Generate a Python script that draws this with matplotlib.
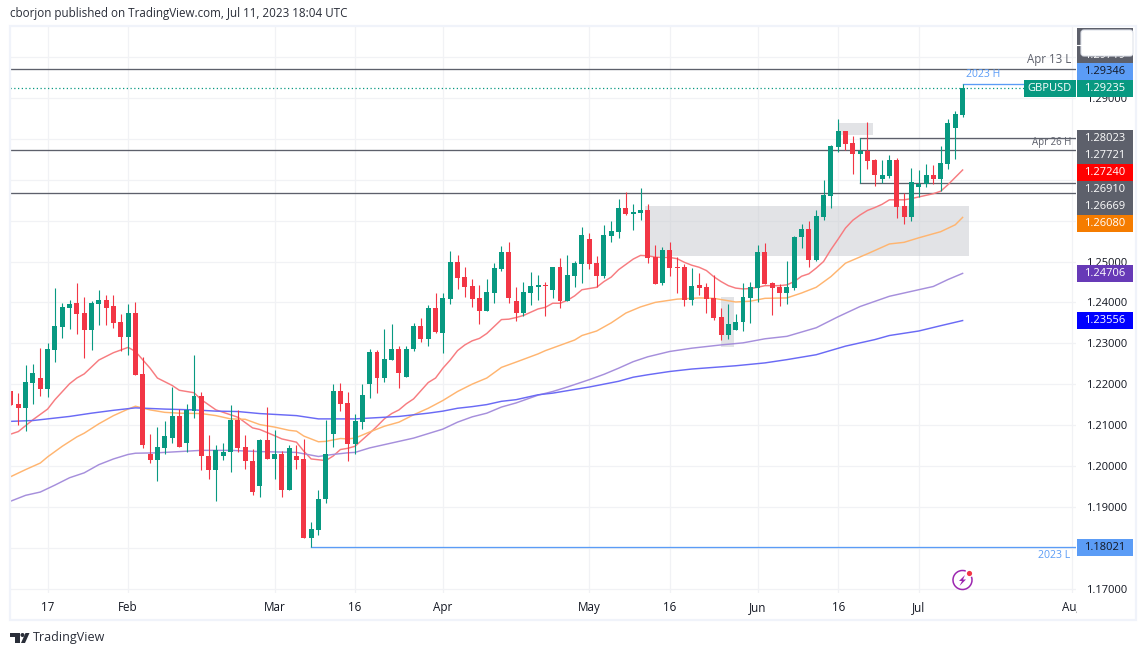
import matplotlib
matplotlib.use('Agg')
import matplotlib.pyplot as plt
from matplotlib.patches import Rectangle, FancyBboxPatch, Polygon, Circle, Arc

opens = [1.2184, 1.2152, 1.2142, 1.2203, 1.2216, 1.2189, 1.2284, 1.2340, 1.2386, 1.2398,
         1.2374, 1.2333, 1.2396, 1.2406, 1.2391, 1.2352, 1.2315, 1.2374, 1.2225, 1.2030,
         1.2015, 1.2045, 1.2069, 1.2123, 1.2057, 1.2135, 1.2172, 1.2025, 1.1991, 1.2023,
         1.2033, 1.2113, 1.2047, 1.2013, 1.1950, 1.2064, 1.2018, 1.2030, 1.1942, 1.2023,
         1.2018, 1.1823, 1.1842, 1.1918, 1.2079, 1.2184, 1.2154, 1.2054, 1.2108, 1.2200,
         1.2279, 1.2215, 1.2259, 1.2286, 1.2218, 1.2285, 1.2343, 1.2311, 1.2387, 1.2324,
         1.2409, 1.2500, 1.2463, 1.2441, 1.2411, 1.2380, 1.2424, 1.2482, 1.2524, 1.2404,
         1.2375, 1.2424, 1.2438, 1.2443, 1.2431, 1.2487, 1.2404, 1.2465, 1.2494, 1.2555,
         1.2497, 1.2465, 1.2563, 1.2572, 1.2631, 1.2616, 1.2619, 1.2626, 1.2511, 1.2448,
         1.2528, 1.2487, 1.2487, 1.2407, 1.2443, 1.2438, 1.2411, 1.2365, 1.2321, 1.2333,
         1.2351, 1.2411, 1.2436, 1.2524, 1.2448, 1.2438, 1.2424, 1.2436, 1.2559, 1.2580,
         1.2504, 1.2610, 1.2661, 1.2780, 1.2820, 1.2790, 1.2763, 1.2770, 1.2749, 1.2702,
         1.2710, 1.2749, 1.2637, 1.2610, 1.2683, 1.2690, 1.2712, 1.2702, 1.2739, 1.2827,
         1.2859]
highs = [1.2184, 1.2179, 1.2247, 1.2250, 1.2289, 1.2301, 1.2435, 1.2398, 1.2406, 1.2447,
         1.2413, 1.2403, 1.2430, 1.2418, 1.2418, 1.2372, 1.2396, 1.2401, 1.2267, 1.2079,
         1.2096, 1.2111, 1.2193, 1.2140, 1.2152, 1.2272, 1.2181, 1.2076, 1.2050, 1.2057,
         1.2150, 1.2137, 1.2076, 1.2042, 1.2067, 1.2145, 1.2089, 1.2037, 1.2050, 1.2050,
         1.2067, 1.1862, 1.1940, 1.2113, 1.2201, 1.2203, 1.2181, 1.2128, 1.2200, 1.2286,
         1.2284, 1.2336, 1.2346, 1.2293, 1.2293, 1.2350, 1.2363, 1.2394, 1.2424, 1.2424,
         1.2526, 1.2516, 1.2487, 1.2458, 1.2443, 1.2458, 1.2497, 1.2538, 1.2548, 1.2438,
         1.2450, 1.2475, 1.2467, 1.2450, 1.2487, 1.2509, 1.2516, 1.2502, 1.2585, 1.2570,
         1.2514, 1.2589, 1.2599, 1.2653, 1.2670, 1.2641, 1.2680, 1.2641, 1.2541, 1.2536,
         1.2548, 1.2511, 1.2494, 1.2484, 1.2472, 1.2448, 1.2467, 1.2387, 1.2397, 1.2372,
         1.2448, 1.2451, 1.2541, 1.2546, 1.2451, 1.2446, 1.2502, 1.2563, 1.2593, 1.2600,
         1.2627, 1.2700, 1.2785, 1.2849, 1.2820, 1.2807, 1.28023, 1.2841, 1.2751, 1.2749,
         1.2761, 1.2754, 1.2667, 1.2729, 1.2724, 1.2739, 1.2737, 1.2783, 1.2849, 1.2868,
         1.29346]
lows = [1.2150, 1.2101, 1.2086, 1.2152, 1.2172, 1.2169, 1.2254, 1.2313, 1.2335, 1.2323,
        1.2264, 1.2284, 1.2345, 1.2345, 1.2337, 1.2281, 1.2272, 1.2223, 1.2045, 1.2006,
        1.1962, 1.2030, 1.2057, 1.2047, 1.2033, 1.2118, 1.1991, 1.1967, 1.1915, 1.2015,
        1.1986, 1.2035, 1.1993, 1.1928, 1.1923, 1.2018, 1.1967, 1.1925, 1.1940, 1.1993,
        1.1823, 1.18021, 1.1830, 1.1908, 1.2047, 1.2135, 1.2011, 1.2028, 1.2091, 1.2166,
        1.2178, 1.2205, 1.2259, 1.2191, 1.2218, 1.2280, 1.2304, 1.2294, 1.2326, 1.2275,
        1.2397, 1.2433, 1.2414, 1.2389, 1.2346, 1.2380, 1.2399, 1.2477, 1.2399, 1.2355,
        1.2367, 1.2394, 1.2406, 1.2367, 1.2411, 1.2387, 1.2404, 1.2438, 1.2448, 1.2482,
        1.2438, 1.2460, 1.2548, 1.2558, 1.2614, 1.2577, 1.2602, 1.2497, 1.2446, 1.2443,
        1.2465, 1.2424, 1.2392, 1.2394, 1.2419, 1.2375, 1.2358, 1.2309, 1.2311, 1.2333,
        1.2329, 1.2349, 1.2402, 1.2444, 1.2370, 1.2392, 1.2397, 1.2431, 1.2534, 1.2487,
        1.2502, 1.2602, 1.2632, 1.2768, 1.2773, 1.2715, 1.2691, 1.2727, 1.2685, 1.2692,
        1.2705, 1.2607, 1.2593, 1.2600, 1.2659, 1.2683, 1.2690, 1.2673, 1.2727, 1.2751,
        1.2854]
closes = [1.2150, 1.2142, 1.2206, 1.2228, 1.2189, 1.2286, 1.2342, 1.2389, 1.2396, 1.2372,
          1.2333, 1.2398, 1.2406, 1.2386, 1.2350, 1.2315, 1.2374, 1.2223, 1.2050, 1.2015,
          1.2047, 1.2072, 1.2123, 1.2047, 1.2137, 1.2172, 1.2023, 1.1991, 1.2040, 1.2035,
          1.2113, 1.2045, 1.2011, 1.1937, 1.2064, 1.2018, 1.2030, 1.1942, 1.2045, 1.2015,
          1.1823, 1.1845, 1.1920, 1.2030, 1.2184, 1.2152, 1.2054, 1.2111, 1.2174, 1.2279,
          1.2215, 1.2262, 1.2286, 1.2228, 1.2286, 1.2343, 1.2311, 1.2387, 1.2328, 1.2411,
          1.2500, 1.2460, 1.2438, 1.2409, 1.2380, 1.2426, 1.2485, 1.2524, 1.2411, 1.2375,
          1.2426, 1.2441, 1.2443, 1.2441, 1.2487, 1.2404, 1.2467, 1.2497, 1.2565, 1.2494,
          1.2465, 1.2565, 1.2575, 1.2631, 1.2616, 1.2621, 1.2626, 1.2509, 1.2446, 1.2528,
          1.2485, 1.2485, 1.2407, 1.2441, 1.2436, 1.2409, 1.2363, 1.2321, 1.2346, 1.2353,
          1.2414, 1.2438, 1.2524, 1.2446, 1.2436, 1.2424, 1.2438, 1.2561, 1.2580, 1.2504,
          1.2612, 1.2663, 1.2783, 1.2820, 1.2788, 1.2763, 1.2770, 1.2746, 1.2712, 1.2712,
          1.2749, 1.2634, 1.2610, 1.2695, 1.2690, 1.2712, 1.2702, 1.2741, 1.2839, 1.2861,
          1.29235]

# moving averages, read at some candles only (candle number counted from 1)
red_n = [1, 2, 4, 6, 7, 9, 10, 11, 13, 15, 17, 18, 20, 21, 23, 24, 26, 27, 29, 31, 32, 34, 35, 37, 38, 40, 41, 42,
         44, 45, 46, 47, 48, 49, 50, 51, 52, 53, 54, 55, 56, 57, 58, 59, 60, 61, 62, 63, 64, 65, 66, 67, 68, 69, 70,
         71, 72, 73, 74, 75, 76, 77, 78, 79, 80, 81, 82, 83, 84, 85, 86, 87, 88, 89, 90, 91, 92, 93, 94, 95, 96, 97,
         98, 99, 100, 101, 102, 103, 104, 105, 106, 107, 108, 109, 110, 111, 112, 113, 114, 115, 116, 117, 118, 119,
         120, 121, 122, 123, 124, 125, 126, 127, 128, 129, 130, 131]
red_ma = [1.2078, 1.2084, 1.2113, 1.2139, 1.2162, 1.2201, 1.2215, 1.2225, 1.2259, 1.2277, 1.2290, 1.2280, 1.2239,
          1.2215, 1.2197, 1.2185, 1.2179, 1.2162, 1.2137, 1.2125, 1.2119, 1.2093, 1.2089, 1.2074, 1.2066, 1.2058,
          1.2036, 1.2017, 1.2013, 1.2024, 1.2040, 1.2043, 1.2048, 1.2064, 1.2080, 1.2097, 1.2115, 1.2128, 1.2137,
          1.2152, 1.2164, 1.2184, 1.2204, 1.2215, 1.2239, 1.2259, 1.2282, 1.2296, 1.2306, 1.2312, 1.2324, 1.2341,
          1.2358, 1.2359, 1.2363, 1.2368, 1.2376, 1.2384, 1.2388, 1.2398, 1.2398, 1.2405, 1.2416, 1.2431, 1.2434,
          1.2437, 1.2451, 1.2462, 1.2480, 1.2493, 1.2506, 1.2515, 1.2514, 1.2511, 1.2510, 1.2510, 1.2507, 1.2498,
          1.2491, 1.2486, 1.2478, 1.2463, 1.2451, 1.2441, 1.2435, 1.2433, 1.2434, 1.2437, 1.2441, 1.2441, 1.2441,
          1.2443, 1.2451, 1.2464, 1.2470, 1.2484, 1.2500, 1.2529, 1.2555, 1.2582, 1.2601, 1.2614, 1.2625, 1.2632,
          1.2640, 1.2651, 1.2651, 1.2651, 1.2654, 1.2658, 1.2662, 1.2666, 1.2672, 1.2688, 1.2706, 1.2724]

orange_n = [1, 3, 4, 5, 6, 8, 10, 11, 13, 15, 17, 18, 20, 22, 24, 27, 29, 31, 33, 35, 37, 39, 40, 41, 43, 44, 46, 47,
            48, 50, 52, 54, 56, 58, 60, 62, 64, 66, 68, 70, 73, 74, 76, 78, 79, 81, 83, 85, 87, 89, 92, 95, 97, 100,
            102, 104, 107, 109, 111, 113, 115, 118, 121, 123, 125, 128, 130, 131]
orange_ma = [1.1974, 1.1991, 1.1999, 1.2007, 1.2022, 1.2048, 1.2071, 1.2080, 1.2103, 1.2123, 1.2139, 1.2146, 1.2137,
             1.2131, 1.2129, 1.2128, 1.2123, 1.2115, 1.2114, 1.2101, 1.2095, 1.2087, 1.2085, 1.2073, 1.2059, 1.2060,
             1.2067, 1.2066, 1.2068, 1.2083, 1.2097, 1.2107, 1.2125, 1.2141, 1.2160, 1.2182, 1.2200, 1.2215, 1.2241,
             1.2254, 1.2274, 1.2282, 1.2295, 1.2308, 1.2319, 1.2330, 1.2350, 1.2374, 1.2389, 1.2400, 1.2408, 1.2411,
             1.2410, 1.2401, 1.2403, 1.2410, 1.2411, 1.2423, 1.2437, 1.2463, 1.2496, 1.2519, 1.2543, 1.2547, 1.2558,
             1.2573, 1.2590, 1.2608]

purple_n = [1, 3, 5, 7, 9, 11, 13, 15, 17, 18, 21, 24, 27, 31, 35, 40, 43, 45, 47, 48, 50, 52, 54, 56, 58, 60, 62, 64,
            66, 68, 70, 73, 75, 77, 80, 82, 84, 86, 88, 91, 94, 98, 101, 104, 107, 111, 114, 117, 121, 123, 127, 129, 131]
purple_ma = [1.1914, 1.1928, 1.1936, 1.1953, 1.1971, 1.1983, 1.2003, 1.2017, 1.2028, 1.2031, 1.2032, 1.2035, 1.2038,
             1.2038, 1.2035, 1.2033, 1.2023, 1.2028, 1.2032, 1.2033, 1.2044, 1.2052, 1.2060, 1.2068, 1.2079, 1.2090,
             1.2107, 1.2120, 1.2129, 1.2144, 1.2154, 1.2173, 1.2182, 1.2193, 1.2211, 1.2224, 1.2239, 1.2255, 1.2267,
             1.2280, 1.2288, 1.2296, 1.2301, 1.2311, 1.2317, 1.2338, 1.2365, 1.2390, 1.2415, 1.2423, 1.2439, 1.2456, 1.2471]

blue_n = [1, 4, 6, 9, 12, 15, 18, 22, 26, 29, 32, 35, 39, 40, 43, 47, 48, 50, 54, 58, 60, 62, 64, 66, 68, 70, 73, 75,
          77, 80, 82, 84, 86, 88, 91, 94, 97, 100, 104, 107, 111, 115, 119, 121, 125, 128, 131]
blue_ma = [1.2109, 1.2111, 1.2115, 1.2121, 1.2129, 1.2136, 1.2142, 1.2139, 1.2137, 1.2134, 1.2133, 1.2128, 1.2124,
           1.2123, 1.2115, 1.2115, 1.2115, 1.2117, 1.2121, 1.2129, 1.2134, 1.2141, 1.2145, 1.2150, 1.2158, 1.2162,
           1.2174, 1.2178, 1.2184, 1.2193, 1.2200, 1.2207, 1.2217, 1.2223, 1.2231, 1.2237, 1.2241, 1.2245, 1.2252,
           1.2260, 1.2272, 1.2293, 1.2309, 1.2319, 1.2330, 1.2343, 1.23556]

x_tick_pos = [6, 17, 37, 48, 60, 80, 91, 103, 114, 125, 146]
x_tick_labels = ['17', 'Feb', 'Mar', '16', 'Apr', 'May', '16', 'Jun', '16', 'Jul', 'Aug']
y_ticks = [1.17, 1.18, 1.19, 1.20, 1.21, 1.22, 1.23, 1.24, 1.25, 1.26, 1.27, 1.28, 1.29, 1.30]
# these scale values are hidden behind the price labels in the picture
y_hidden = [1.26, 1.27, 1.28, 1.30]

apr13_low = 1.29719
year_high = 1.29346
last_price = 1.29235
apr26_high = 1.28023
level_a = 1.27721
range_low = 1.26910
level_b = 1.26669
year_low = 1.18021

GREEN = '#089981'
RED = '#f23645'
DARK = '#5d606b'
LIGHTBLUE = '#5b9cf6'
GRID = '#f1f2f5'
BORDER = '#f0f3fa'

plt.rcParams['font.family'] = ['Open Sans', 'DejaVu Sans']
plt.rcParams['font.size'] = 8

fig = plt.figure(figsize=(11.47, 6.56), dpi=100, facecolor='white')
W, H = 1147, 656

# chart pane, in pixels: x 10-1076, y 26-593
ax = fig.add_axes([10 / W, (H - 593) / H, 1066 / W, 567 / H])
ax.set_xlim(0.863, 146.49)
ax.set_ylim(1.16890, 1.30763)
for s in ax.spines.values():
    s.set_visible(False)

ax.set_yticks(y_ticks)
ax.set_yticklabels(['' if v in y_hidden else '%.5f' % v for v in y_ticks], color='#131722')
ax.set_xticks(x_tick_pos)
ax.set_xticklabels(x_tick_labels, color='#131722', fontsize=8.4)
ax.yaxis.tick_right()
ax.tick_params(axis='y', length=0, pad=7)
ax.tick_params(axis='x', length=0, pad=6)
ax.set_axisbelow(True)
ax.grid(True, color=GRID, lw=0.9)

# shaded zones
for x0, x1, y0, y1 in [(87.6, 131.9, 1.2514, 1.2637), (114.1, 118.7, 1.2810, 1.2839), (98.0, 99.8, 1.2291, 1.2414)]:
    ax.add_patch(Rectangle((x0, y0), x1 - x0, y1 - y0, fc='#c8cacf', ec='none', alpha=0.52, zorder=1))

# horizontal levels
for lvl in [apr13_low, level_a, level_b]:
    ax.axhline(lvl, color=DARK, lw=0.95, zorder=2)
ax.plot([117, 146.49], [apr26_high, apr26_high], color=DARK, lw=0.95, zorder=2)
ax.plot([117, 146.49], [range_low, range_low], color=DARK, lw=0.95, zorder=2)
ax.plot([42, 146.49], [year_low, year_low], color=LIGHTBLUE, lw=0.95, zorder=2)
ax.plot([131, 140], [year_high, year_high], color=LIGHTBLUE, lw=0.95, zorder=2)
ax.axhline(last_price, color=GREEN, lw=0.9, ls=(0, (1, 2)), zorder=2)

# moving averages
ax.plot(red_n, red_ma, color='#f77c80', lw=1.05, zorder=3)
ax.plot(orange_n, orange_ma, color='#ffb570', lw=1.05, zorder=3)
ax.plot(purple_n, purple_ma, color='#a68fdc', lw=1.05, zorder=3)
ax.plot(blue_n, blue_ma, color='#6a6af5', lw=1.05, zorder=3)

# candles
for i in range(len(opens)):
    n = i + 1
    col = GREEN if closes[i] >= opens[i] else RED
    ax.plot([n, n], [lows[i], highs[i]], color=col, lw=0.8, zorder=4, solid_capstyle='butt')
    bot = min(opens[i], closes[i])
    ax.add_patch(Rectangle((n - 0.34, bot), 0.68, max(abs(closes[i] - opens[i]), 0.00025),
                           fc=col, ec='none', zorder=5))

# overlay in pixel coordinates for the frame, the labels and the logos
ov = fig.add_axes([0, 0, 1, 1], zorder=10)
ov.set_xlim(0, W)
ov.set_ylim(H, 0)
ov.axis('off')
ov.patch.set_alpha(0)

ov.add_patch(Rectangle((1076.8, 596), 58, 22, fc='white', ec='none', zorder=1))
ov.add_patch(Rectangle((9.5, 25.5), 1126.5, 594.5, fc='none', ec=BORDER, lw=1.6, zorder=2))

ov.text(10, 14, 'cborjon published on TradingView.com, Jul 11, 2023 18:04 UTC', color='#2a2e39',
        fontsize=8.37, va='center', ha='left')

ov.text(1071, 59.5, 'Apr 13 L', color=DARK, fontsize=8.3, ha='right', va='center')
ov.text(966, 74.5, '2023 H', color=LIGHTBLUE, fontsize=7.5, ha='left', va='center')
ov.text(1071, 142, 'Apr 26 H', color=DARK, fontsize=7, ha='right', va='center')
ov.text(1070, 556, '2023 L', color=LIGHTBLUE, fontsize=7.6, ha='right', va='center')

# price labels on the right scale
labels = [(28, 62.7, DARK, '#ffffff', apr13_low, 56),
          (62.7, 80, LIGHTBLUE, '#131722', year_high, None),
          (80, 97, GREEN, '#ffffff', last_price, None),
          (130, 147, DARK, '#ffffff', apr26_high, None),
          (147, 164, DARK, '#ffffff', level_a, None),
          (164, 181, '#ff0000', '#ffffff', red_ma[-1], None),
          (181, 198, DARK, '#ffffff', range_low, None),
          (198, 215, DARK, '#ffffff', level_b, None),
          (215, 232, '#f57c00', '#ffffff', orange_ma[-1], None),
          (265, 282, '#673ab7', '#ffffff', 1.24706, None),
          (312, 329, '#0000ff', '#ffffff', blue_ma[-1], None),
          (539, 556, LIGHTBLUE, '#131722', year_low, None)]
for y0, y1, bg, fg, val, ty in labels:
    ov.add_patch(Rectangle((1077, y0), 56, y1 - y0, fc=bg, ec='none', zorder=3))
    ov.text(1105, ty if ty else (y0 + y1) / 2, '%.5f' % val, color=fg, fontsize=8, ha='center',
            va='center', zorder=4)

ov.add_patch(Rectangle((1024, 80), 52, 17, fc=GREEN, ec='none', zorder=3))
ov.text(1050, 88.5, 'GBPUSD', color='white', fontsize=8, ha='center', va='center', zorder=4)

# white button that covers the top label
ov.add_patch(FancyBboxPatch((1083, 32), 48, 22, boxstyle='round,pad=2,rounding_size=3',
                            fc='white', ec='#e0e3eb', lw=0.8, zorder=5))
ov.plot([1077, 1081], [45, 45], color='white', lw=0.8, zorder=5)

# lightning icon
ov.add_patch(Arc((962.5, 580), 19, 19, theta1=-20, theta2=290, ec='#9c27b0', lw=1.1, zorder=3))
ov.add_patch(Polygon([(965, 575), (959, 581), (962, 581), (959.5, 586), (966, 579.5), (963, 579.5)],
                     fc='#9c27b0', ec='none', zorder=3))
ov.add_patch(Circle((969.5, 573.5), 2.6, fc=RED, ec='none', zorder=4))

# TradingView logo
logo = '#2a2e39'
ov.add_patch(Polygon([(10, 633), (20, 633), (20, 643), (15, 643), (15, 637), (10, 637)], fc=logo, ec='none'))
ov.add_patch(Circle((22.5, 635), 2, fc=logo, ec='none'))
ov.add_patch(Polygon([(25.5, 633), (29.5, 633), (25, 643), (21, 643)], fc=logo, ec='none'))
ov.text(33, 638, 'TradingView', color='#2a2e39', fontsize=9, ha='left', va='center')

fig.savefig('out.png', dpi=100)
